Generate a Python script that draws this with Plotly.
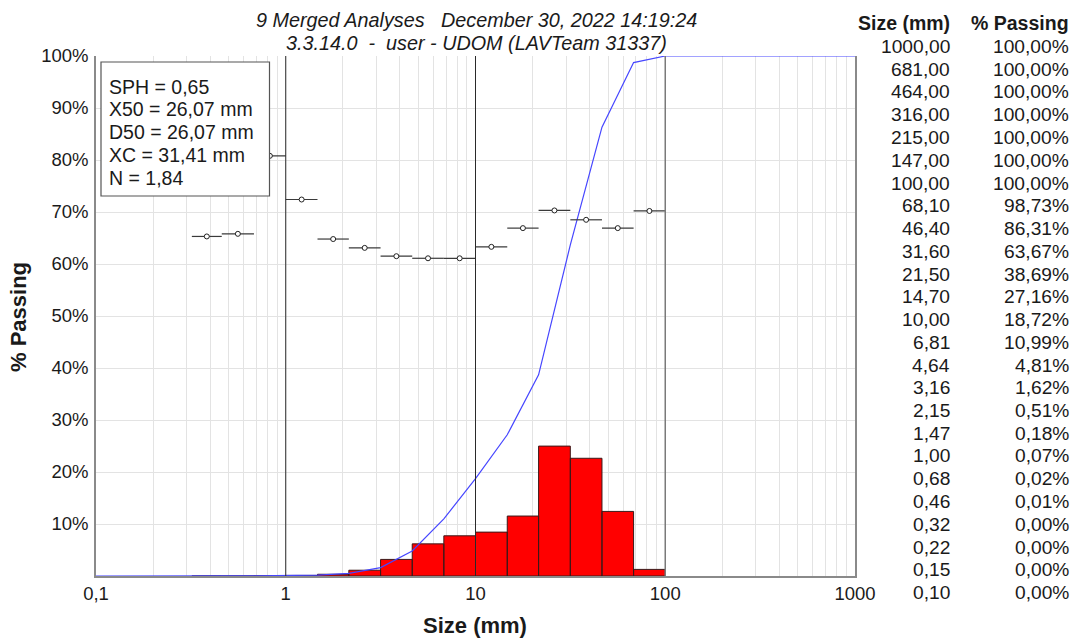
import plotly.graph_objects as go

# ---------------- data ----------------
sizes_desc = [1000.00, 681.00, 464.00, 316.00, 215.00, 147.00, 100.00, 68.10, 46.40, 31.60,
              21.50, 14.70, 10.00, 6.81, 4.64, 3.16, 2.15, 1.47, 1.00, 0.68, 0.46, 0.32,
              0.22, 0.15, 0.10]
passing_desc = [100.00, 100.00, 100.00, 100.00, 100.00, 100.00, 100.00, 98.73, 86.31, 63.67,
                38.69, 27.16, 18.72, 10.99, 4.81, 1.62, 0.51, 0.18, 0.07, 0.02, 0.01, 0.00,
                0.00, 0.00, 0.00]

# retained % per size class (lower edge, upper edge)
bin_lo = [0.10, 0.15, 0.22, 0.32, 0.46, 0.68, 1.00, 1.47, 2.15, 3.16, 4.64, 6.81, 10.0,
          14.7, 21.5, 31.6, 46.4, 68.1, 100, 147, 215, 316, 464, 681]
bin_hi = [0.15, 0.22, 0.32, 0.46, 0.68, 1.00, 1.47, 2.15, 3.16, 4.64, 6.81, 10.0, 14.7,
          21.5, 31.6, 46.4, 68.1, 100, 147, 215, 316, 464, 681, 1000]
retained = [0.00, 0.00, 0.00, 0.01, 0.01, 0.05, 0.11, 0.33, 1.11, 3.19, 6.18, 7.73, 8.44,
            11.53, 24.98, 22.64, 12.42, 1.27, 0, 0, 0, 0, 0, 0]

# per-class point values (plotted on the % axis)
pt_lo = [0.32, 0.46, 0.68, 1.00, 1.47, 2.15, 3.16, 4.64, 6.81, 10.0, 14.7, 21.5, 31.6, 46.4, 68.1]
pt_hi = [0.46, 0.68, 1.00, 1.47, 2.15, 3.16, 4.64, 6.81, 10.0, 14.7, 21.5, 31.6, 46.4, 68.1, 100]
pt_val = [65.3, 65.8, 80.8, 72.4, 64.8, 63.1, 61.5, 61.1, 61.1, 63.3, 66.9, 70.3, 68.5, 66.9, 70.2]

x_tickvals = [0.1, 1, 10, 100, 1000]
x_ticktext = ["0,1", "1", "10", "100", "1000"]
y_tickvals = [10, 20, 30, 40, 50, 60, 70, 80, 90, 100]
y_ticktext = ["10%", "20%", "30%", "40%", "50%", "60%", "70%", "80%", "90%", "100%"]

stats_lines = ["SPH = 0,65", "X50 = 26,07 mm", "D50 = 26,07 mm", "XC = 31,41 mm", "N = 1,84"]
title_line1 = "9 Merged Analyses\u00a0\u00a0\u00a0December 30, 2022 14:19:24"
title_line2 = "3.3.14.0\u00a0\u00a0-\u00a0\u00a0user - UDOM (LAVTeam 31337)"

FONT = "Liberation Sans, Arial, sans-serif"
TXT = "#1a1a1a"

# ---------------- figure ----------------
fig = go.Figure()

# bars as polygons
bx, by = [], []
for lo, hi, v in zip(bin_lo, bin_hi, retained):
    if v <= 0:
        continue
    bx += [lo, lo, hi, hi, lo, None]
    by += [0, v, v, 0, 0, None]
fig.add_trace(go.Scatter(x=bx, y=by, mode="lines", fill="toself", fillcolor="#ff0000",
                         line=dict(color="#3a1a1a", width=1), hoverinfo="skip", showlegend=False))

# cumulative passing curve
fig.add_trace(go.Scatter(x=sizes_desc, y=passing_desc, mode="lines",
                         line=dict(color="rgb(70,70,255)", width=1.2), showlegend=False))

# class segments + points
sx, sy = [], []
for lo, hi, v in zip(pt_lo, pt_hi, pt_val):
    sx += [lo, hi, None]
    sy += [v, v, None]
fig.add_trace(go.Scatter(x=sx, y=sy, mode="lines", line=dict(color="#3a3a3a", width=1.2),
                         hoverinfo="skip", showlegend=False))
fig.add_trace(go.Scatter(x=[(lo * hi) ** 0.5 for lo, hi in zip(pt_lo, pt_hi)], y=pt_val,
                         mode="markers",
                         marker=dict(symbol="circle", size=5, color="white",
                                     line=dict(color="#222222", width=1)),
                         showlegend=False))

# grid values (1..9 per decade), labels only on decades
grid_vals = []
for d in [0.1, 1, 10, 100]:
    for k in range(1, 10):
        grid_vals.append(d * k)
grid_vals.append(1000)
grid_text = []
for v in grid_vals:
    t = ""
    for tv, tt in zip(x_tickvals, x_ticktext):
        if abs(v - tv) < 1e-9 * max(1, tv):
            t = tt
    grid_text.append(t)

fig.update_xaxes(type="log", range=[-1, 3], tickmode="array", tickvals=grid_vals, ticktext=grid_text,
                 showgrid=True, gridcolor="#e3e3e3", gridwidth=1,
                 showline=True, linecolor="#8a8a8a", linewidth=1.5,
                 ticks="", ticklabelstandoff=0, zeroline=False,
                 tickfont=dict(family=FONT, size=18.5, color=TXT))
fig.update_yaxes(range=[0, 100], tickmode="array", tickvals=y_tickvals, ticktext=y_ticktext,
                 showgrid=True, gridcolor="#e3e3e3", gridwidth=1,
                 showline=True, linecolor="#8a8a8a", linewidth=1.5, mirror=True,
                 ticks="", ticklabelstandoff=2, zeroline=False,
                 tickfont=dict(family=FONT, size=18.5, color=TXT))

# decade lines
for xv, col, w in [(1, "#2a2a2a", 1), (10, "#2a2a2a", 1), (100, "#7a7a7a", 1.5)]:
    fig.add_shape(type="line", x0=xv, x1=xv, y0=0, y1=1, xref="x", yref="paper",
                  line=dict(color=col, width=w), layer="above")

L, R, T, B = 96, 220, 56, 63
W, H = 1075, 639
PW, PH = W - L - R, H - T - B


def px_x(p):
    return (p - L) / PW


def px_y(p):
    return (H - B - p) / PH


# stats box frame
fig.add_shape(type="rect", xref="paper", yref="paper",
              x0=px_x(101), x1=px_x(269.5), y0=px_y(196), y1=px_y(62),
              fillcolor="white", line=dict(color="#555555", width=1.2), layer="above")

ann = []
# title
ann.append(dict(text="<i>" + title_line1 + "</i>", x=px_x(476), y=px_y(20), xref="paper", yref="paper",
                xanchor="center", yanchor="middle", showarrow=False,
                font=dict(family=FONT, size=19.8, color=TXT)))
ann.append(dict(text="<i>" + title_line2 + "</i>", x=px_x(476), y=px_y(43), xref="paper", yref="paper",
                xanchor="center", yanchor="middle", showarrow=False,
                font=dict(family=FONT, size=19.8, color=TXT)))
# axis titles
ann.append(dict(text="<b>Size (mm)</b>", x=px_x(475), y=px_y(625), xref="paper", yref="paper",
                xanchor="center", yanchor="middle", showarrow=False,
                font=dict(family=FONT, size=22, color=TXT)))
ann.append(dict(text="<b>% Passing</b>", x=px_x(18), y=px_y(317), xref="paper", yref="paper",
                xanchor="center", yanchor="middle", showarrow=False, textangle=-90,
                font=dict(family=FONT, size=22, color=TXT)))
# stats box text
for i, line in enumerate(stats_lines):
    ann.append(dict(text=line, x=px_x(106.5), y=px_y(86.5 + 22.8 * i), xref="paper", yref="paper",
                    xanchor="left", yanchor="middle", align="left", showarrow=False,
                    font=dict(family=FONT, size=19.5, color=TXT)))
# table
ann.append(dict(text="<b>Size (mm)</b>", x=px_x(951.5), y=px_y(23), xref="paper", yref="paper",
                xanchor="right", yanchor="middle", showarrow=False,
                font=dict(family=FONT, size=19.5, color=TXT)))
ann.append(dict(text="<b>% Passing</b>", x=px_x(1071), y=px_y(23), xref="paper", yref="paper",
                xanchor="right", yanchor="middle", showarrow=False,
                font=dict(family=FONT, size=19.5, color=TXT)))
for i, (s, p) in enumerate(zip(sizes_desc, passing_desc)):
    yy = px_y(46.5 + 22.75 * i)
    ann.append(dict(text=f"{s:.2f}".replace(".", ","), x=px_x(951.5), y=yy, xref="paper", yref="paper",
                    xanchor="right", yanchor="middle", showarrow=False,
                    font=dict(family=FONT, size=19.2, color=TXT)))
    ann.append(dict(text=f"{p:.2f}".replace(".", ",") + "%", x=px_x(1071), y=yy, xref="paper",
                    yref="paper", xanchor="right", yanchor="middle", showarrow=False,
                    font=dict(family=FONT, size=19.2, color=TXT)))

fig.update_layout(width=W, height=H, autosize=False,
                  margin=dict(l=L, r=R, t=T, b=B, pad=0),
                  paper_bgcolor="white", plot_bgcolor="white",
                  annotations=ann, showlegend=False,
                  font=dict(family=FONT, color=TXT))

fig.write_html("out.html", config={"displayModeBar": False},
               post_script="document.body.style.margin='0px';document.body.style.overflow='hidden';")
